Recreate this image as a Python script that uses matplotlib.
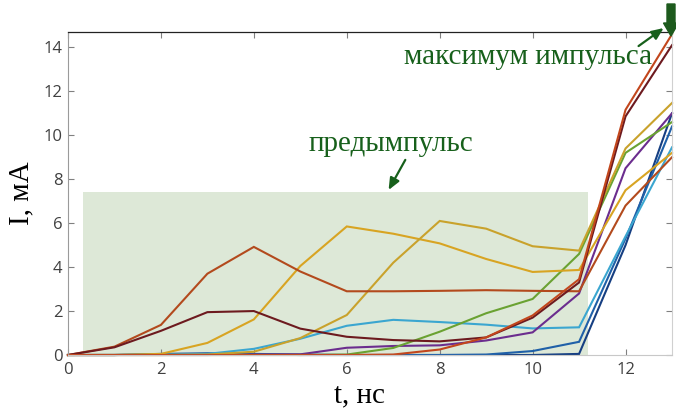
import matplotlib
matplotlib.use("Agg")
import matplotlib.pyplot as plt
from matplotlib.patches import Rectangle, FancyArrow

# time axis, ns
t = list(range(14))

# current traces, mA
rust_a = [0, 0.38, 1.37, 3.70, 4.92, 3.80, 2.90, 2.90, 2.92, 2.95, 2.92, 2.90, 6.80, 9.00]
maroon = [0, 0.35, 1.10, 1.95, 2.00, 1.20, 0.83, 0.68, 0.62, 0.80, 1.70, 3.30, 10.86, 14.10]
rust_b = [0, 0.00, 0.00, 0.00, 0.00, 0.00, 0.00, 0.02, 0.25, 0.80, 1.80, 3.45, 11.16, 14.60]
gold_a = [0, 0.00, 0.05, 0.55, 1.62, 4.05, 5.85, 5.52, 5.08, 4.37, 3.78, 3.87, 7.50, 9.20]
gold_b = [0, 0.00, 0.00, 0.02, 0.15, 0.77, 1.82, 4.20, 6.10, 5.75, 4.95, 4.75, 9.40, 11.47]
green = [0, 0.00, 0.00, 0.00, 0.00, 0.00, 0.02, 0.32, 1.06, 1.90, 2.55, 4.60, 9.20, 10.60]
cyan = [0, 0.00, 0.02, 0.05, 0.28, 0.74, 1.33, 1.60, 1.50, 1.38, 1.21, 1.26, 5.40, 9.45]
purple = [0, 0.00, 0.00, 0.00, 0.02, 0.03, 0.33, 0.41, 0.44, 0.66, 1.03, 2.80, 8.50, 11.00]
blue = [0, 0.00, 0.05, 0.08, 0.05, 0.02, 0.00, 0.00, 0.00, 0.02, 0.18, 0.60, 5.30, 10.40]
navy = [0, 0.00, 0.02, 0.05, 0.02, 0.00, 0.00, 0.00, 0.00, 0.00, 0.00, 0.05, 5.00, 11.00]

series = [
    (navy, "#163f82"),
    (blue, "#1f60a8"),
    (cyan, "#3ba6d0"),
    (purple, "#6b2d8e"),
    (green, "#6aa232"),
    (gold_a, "#d8a422"),
    (gold_b, "#c9a22c"),
    (rust_a, "#b34a1d"),
    (maroon, "#6d1a1f"),
    (rust_b, "#c2461c"),
]

# pre-pulse window
pre_t0, pre_t1, pre_top = 0.32, 11.19, 7.43

x_ticks = [0, 2, 4, 6, 8, 10, 12]
y_ticks = [0, 2, 4, 6, 8, 10, 12, 14]

W, H = 676, 412
fig = plt.figure(figsize=(W / 100, H / 100), dpi=100)
ax = fig.add_axes([68 / W, (H - 355) / H, 604 / W, 323 / H])

ax.add_patch(Rectangle((pre_t0, 0), pre_t1 - pre_t0, pre_top,
                       facecolor="#dde8d7", edgecolor="none", zorder=0))

for vals, col in series:
    ax.plot(t, vals, color=col, lw=1.5, solid_joinstyle="miter", zorder=2,
            clip_on=False)

ax.set_xlim(0, 13)
ax.set_ylim(0, 14.7)
ax.set_xticks(x_ticks)
ax.set_yticks(y_ticks)

tick_font = dict(family=["Open Sans", "DejaVu Sans"], size=12)
ax.set_xticklabels([str(v) for v in x_ticks], **tick_font)
ax.set_yticklabels([str(v) for v in y_ticks], **tick_font)
ax.tick_params(axis="both", direction="in", length=4, width=0.8,
               colors="#808080", labelcolor="#404040", pad=4,
               top=True, right=True)
ax.tick_params(axis="x", pad=5)

ax.spines["top"].set_color("#222222")
ax.spines["top"].set_linewidth(0.9)
ax.spines["left"].set_color("#9a9a9a")
ax.spines["bottom"].set_color("#c8c8c8")
ax.spines["right"].set_color("#d0d0d0")

serif = ["Liberation Serif", "DejaVu Serif"]
ax.set_xlabel("t, нс", family=serif, size=21, color="black")
ax.xaxis.set_label_coords(291 / 604, -0.085)
ax.set_ylabel("I, мА", family=serif, size=21, color="black")
ax.yaxis.set_label_coords(-0.055, 0.5)

green_txt = "#17601b"
arrow_style = dict(arrowstyle="-|>,head_length=0.7,head_width=0.3",
                   color=green_txt, lw=1.6, shrinkA=0, shrinkB=0)
ax.text(6.94, 9.6, "предымпульс", family=serif, size=21, color=green_txt,
        ha="center", va="center")
ax.annotate("", xy=(6.90, 7.51), xytext=(7.26, 8.88), arrowprops=arrow_style)
ax.text(9.9, 13.55, "максимум импульса", family=serif, size=21,
        color=green_txt, ha="center", va="center")
ax.annotate("", xy=(12.82, 14.88), xytext=(12.28, 14.06),
            arrowprops=arrow_style, annotation_clip=False)

# block arrow marking the peak
fig.patches.append(FancyArrow(671 / W, (H - 4) / H, 0, -32 / H, width=8 / W,
                              head_width=15 / W, head_length=13 / H,
                              length_includes_head=True,
                              transform=fig.transFigure, color="#1d5a1d",
                              zorder=5))

fig.savefig("out.png", dpi=100)
